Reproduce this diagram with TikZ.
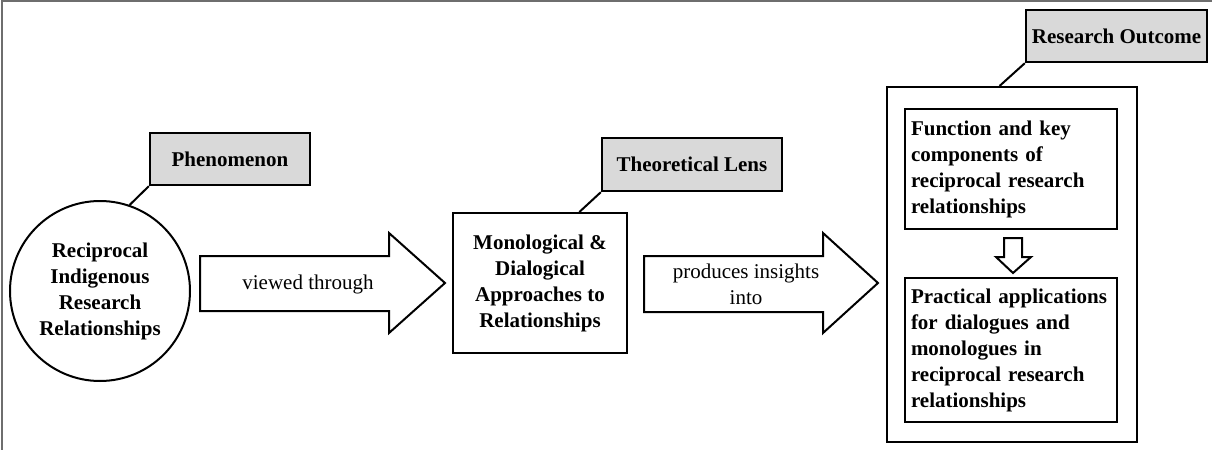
\documentclass[tikz,border=0pt]{standalone}
\usepackage{fontspec}
\setmainfont{Liberation Serif}
\definecolor{labelgray}{HTML}{D9D9D9}
\definecolor{framegray}{HTML}{6E6E6E}
\begin{document}
\begin{tikzpicture}[x=0.5pt, y=-0.5pt,
    every node/.style={font=\fontsize{10.5}{13}\selectfont, inner sep=0pt},
    labelbox/.style={rectangle, draw, line width=1.2pt, fill=labelgray, font=\fontsize{10.5}{13}\selectfont\bfseries},
    mainbox/.style={draw, line width=1pt, align=center, font=\fontsize{10.5}{13}\selectfont\bfseries},
    innerbox/.style={rectangle, draw, line width=1pt, text width=100pt, inner xsep=3pt, align=left, font=\fontsize{10.5}{13}\selectfont\bfseries},
    bigarrow/.style={draw, line width=1pt, fill=white, line join=miter}
]
    \useasboundingbox (0,0) rectangle (1212,450);
    % Frame
    \draw[framegray, line width=0.6pt] (2,450) -- (2,1) -- (1212,1);

    % Phenomenon
    \node[mainbox, circle, minimum size=90pt] (circ) at (100,291)
        {Reciprocal\\Indigenous\\Research\\Relationships};
    \node[labelbox, minimum width=80pt, minimum height=26pt] (phen) at (230,159) {Phenomenon};
    \draw[line width=1pt] (circ.71) -- (phen.south west);

    % Arrow: viewed through
    \draw[bigarrow] (200,256) -- (389,256) -- (389,233) -- (445,283) -- (389,333) -- (389,311) -- (200,311) -- cycle;
    \node (view) at (308,284) {viewed through};

    % Theoretical lens
    \node[mainbox, rectangle, minimum width=87pt, minimum height=70pt] (mono) at (540,283)
        {Monological \&\\Dialogical\\Approaches to\\Relationships};
    \node[labelbox, minimum width=90pt, minimum height=26.5pt] (lens) at (692,164.5) {Theoretical Lens};
    \draw[line width=1pt] (mono.61) -- (lens.south west);

    % Arrow: produces insights into
    \draw[bigarrow] (644,256) -- (823,256) -- (823,233) -- (878,283) -- (823,333) -- (823,312) -- (644,312) -- cycle;
    \node[align=center] (prod) at (746,284) {produces insights\\into};

    % Research outcome
    \node[draw, line width=1pt, minimum width=125pt, minimum height=177.5pt] (outer) at (1012,264.5) {};
    \node[labelbox, minimum width=90.5pt, minimum height=26pt] (outcome) at (1116.5,36) {Research Outcome};
    \draw[line width=1pt] (outer.94) -- (outcome.south west);
    \node[innerbox, minimum height=60pt] (func) at (1011,169)
        {Function and key\\components of\\reciprocal research\\relationships};
    \node[innerbox, minimum height=72pt] (prac) at (1011,350)
        {Practical applications\\for dialogues and\\monologues in\\reciprocal research\\relationships};
    \draw[bigarrow] (1004,238) -- (1022,238) -- (1022,257) -- (1031,257) -- (1013,273) -- (996,257) -- (1004,257) -- cycle;
\end{tikzpicture}
\end{document}
